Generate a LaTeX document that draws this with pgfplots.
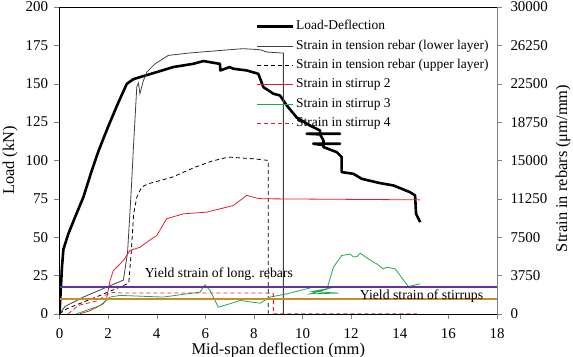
\documentclass[border=0pt]{standalone}
\usepackage{pgfplots}
\pgfplotsset{compat=1.18}
\usepackage{fontspec}
\setmainfont{Liberation Serif}
\definecolor{yieldpurple}{RGB}{100,50,160}
\definecolor{yieldgold}{RGB}{200,140,40}
\definecolor{strred}{RGB}{230,30,50}
\definecolor{strgreen}{RGB}{30,170,70}
\begin{document}
\begin{tikzpicture}
\pgfplotsset{
  common/.style={
    scale only axis, width=437.5bp, height=306.7bp,
    xmin=0, xmax=18,
    tick align=outside, major tick length=5bp,
    /pgf/number format/assume math mode=true,
    ticklabel style={font=\fontsize{15}{18}\selectfont},
    label style={font=\fontsize{16.5}{19}\selectfont},
  }
}
\begin{axis}[common, name=main,
  ymin=0, ymax=200,
  xtick={0,2,...,18}, ytick={0,25,...,200},
  axis x line*=bottom, axis y line*=left,
  xticklabel style={yshift=-6bp},
  yticklabel style={xshift=-3bp},
  xlabel={Mid-span deflection (mm)},
  ylabel={Load (kN)},
  xlabel style={at={(axis description cs:0.5,0)}, anchor=base, yshift=-40.5bp},
  ylabel style={at={(axis description cs:-0.113,0.5)}, anchor=center},
]
\addplot[black, line width=2.6bp, line join=round] coordinates {
(0,0)(0.05,15)(0.1,30)(0.16,42)(0.36,52)(0.64,63)(0.98,76)(1.3,92)(1.6,106)(2.0,122)
(2.4,137)(2.77,150)(3.04,153)(3.45,155)(4.0,157.6)(4.68,160.9)(5.5,163)(5.92,164.8)
(6.6,163)(6.62,158.7)(7.0,160.9)(7.15,159.8)(7.7,158.7)(8.18,156.5)(8.39,147.8)
(8.8,143.5)(9.07,142.4)(9.35,135.9)(9.76,128)(10.3,122.8)(10.72,119.5)(10.72,117.4)
(11.54,117.4)(10.17,117.4)(10.72,117)(10.86,113)(10.86,110.9)(11.54,110.9)(10.44,110.9)
(10.86,110)(10.86,108.7)(11.41,105.4)(11.61,102.2)(11.61,92.4)(12.09,91.3)(12.44,88)
(13.19,85.2)(13.74,83.7)(14.42,79.3)(14.63,77.2)(14.67,65.2)(14.84,59.8)
};
\end{axis}
\begin{axis}[common,
  ymin=0, ymax=30000,
  ytick={0,3750,7500,11250,15000,18750,22500,26250,30000},
  yticklabels={0,3750,7500,11250,15000,18750,22500,26250,30000},
  yticklabel style={xshift=5bp},
  xtick=\empty,
  axis x line*=top, axis y line*=right,
  y axis line style={gray}, ytick style={gray},
  ylabel={Strain in rebars (μm/mm)},
  ylabel style={at={(axis description cs:1.151,0.474)}, anchor=center},
  legend style={draw=none, fill=none, at={(rel axis cs:0.448,0.962)}, anchor=north west,
    font=\fontsize{13.5}{15}\selectfont, row sep=3.8bp, inner sep=0pt,
    nodes={inner sep=1bp, text height=10bp, text depth=3.5bp}},
  legend cell align=left,
  legend image code/.code={\draw[#1] (0bp,0bp) -- (36bp,0bp);},
]
\addlegendimage{black, line width=3.5bp}
\addlegendentry{Load-Deflection}
\addplot[black!75, line width=0.8bp] coordinates {
(0,0)(0.23,720)(0.98,1635)(2.63,3300)(2.8,6000)(2.95,12000)(3.04,16200)(3.18,22200)
(3.25,22575)(3.31,21525)(3.45,22800)(3.59,23640)(3.93,24450)(4.48,25275)(5.3,25500)
(6.67,25770)(7.56,25935)(8.25,25830)(8.53,25605)(9.21,25500)(9.21,0)
};
\addlegendentry{Strain in tension rebar (lower layer)}
\addplot[black, line width=0.8bp, dash pattern=on 4bp off 3bp] coordinates {
(0,0)(0.3,495)(1.67,1800)(2.5,2625)(2.85,3000)(2.95,6000)(3.05,9750)(3.18,11400)
(3.38,12390)(3.65,12720)(4.62,13350)(5.58,14340)(6.26,14925)(6.95,15330)(8.05,15150)
(8.59,15000)(8.59,0)
};
\addlegendentry{Strain in tension rebar (upper layer)}
\addplot[strred, line width=0.8bp] coordinates {
(0.84,0)(1.25,300)(1.8,975)(1.94,1470)(2.08,3255)(2.21,4200)(2.63,5220)(2.9,6195)
(3.31,6510)(3.79,7335)(4.0,7650)(4.41,9300)(5.1,9780)(6.06,9945)(7.15,10590)
(7.7,11580)(8.18,11280)(8.4,11250)(14.84,11145)
};
\addlegendentry{Strain in stirrup 2}
\addplot[strgreen, line width=0.8bp] coordinates {
(0.7,0)(1.67,810)(2.08,1635)(2.49,1800)(4.27,1635)(5.23,1950)(5.78,2115)(5.99,2835)
(6.2,2280)(6.53,645)(7.0,975)(7.43,1305)(8.25,1035)(8.66,1635)(9.35,1950)(9.9,2280)
(10.44,2610)(11.47,2670)(10.4,2175)(11.47,2025)(10.3,1950)(11.0,2400)(11.27,4560)
(11.61,5700)(11.97,5850)(12.09,5550)(12.24,5610)(12.37,5925)(12.91,5055)(13.05,4890)
(13.32,4395)(13.47,4560)(13.81,4395)(14.35,2670)(14.56,2775)(14.84,2940)
};
\addlegendentry{Strain in stirrup 3}
\addplot[strred, line width=0.8bp, dash pattern=on 4bp off 3bp] coordinates {
(0.36,0)(0.77,810)(1.6,1305)(1.87,1800)(2.21,2100)(2.56,2025)(5.78,2025)(8.53,2025)
(8.8,1950)(8.8,0)(14.7,0)
};
\addlegendentry{Strain in stirrup 4}
\addplot[yieldpurple, line width=2bp, forget plot] coordinates {(0,2600)(18,2600)};
\addplot[yieldgold, line width=2bp, forget plot] coordinates {(0,1400)(18,1400)};
\node[anchor=west, font=\fontsize{13.8}{15}\selectfont, inner sep=0pt] at (axis cs:3.5,3850) {Yield strain of long. rebars};
\node[anchor=west, font=\fontsize{13.8}{15}\selectfont, inner sep=0pt] at (axis cs:12.35,1750) {Yield strain of stirrups};
\end{axis}
\pgfresetboundingbox
\path (main.south west) ++(-59.5bp,-43.2bp) rectangle ++(573bp,357bp);
\end{tikzpicture}
\end{document}
